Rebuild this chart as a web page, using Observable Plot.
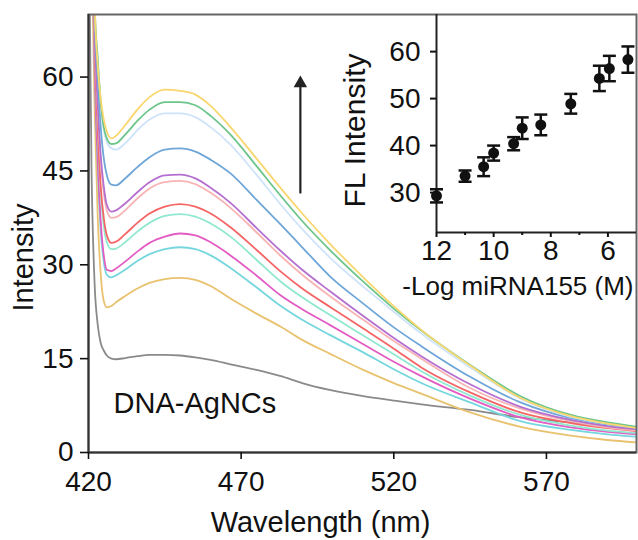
<!DOCTYPE html>
<html><head><meta charset="utf-8">
<script src="https://cdn.jsdelivr.net/npm/d3@7"></script>
<script src="https://cdn.jsdelivr.net/npm/@observablehq/plot@0.6"></script>
<style>
body{margin:0;background:#fff;}
#wrap{position:relative;width:638px;height:540px;font-family:"Liberation Sans",Arial,sans-serif;}
#main{position:absolute;left:0;top:0;}
#inset{position:absolute;left:340px;top:0;}
</style></head><body><div id="wrap"><div id="main"></div><div id="inset"></div></div>
<script>
// ---- main spectra ----
const wavelengths = [420, 421, 422, 423, 424, 425, 426, 427.5, 429, 432, 436, 440, 445, 450, 455, 460, 466.5, 475, 483, 490, 499, 510, 520, 529, 545, 561.5, 578, 590, 600];
const seriesNames = ["DNA-AgNCs", "s1", "s2", "s3", "s4", "s5", "s6", "s7", "s8", "s9", "s10", "s11"];
const seriesColors = ["#8a8a8a", "#e8c26e", "#76d6de", "#e25cc4", "#8fe8cf", "#f56565", "#f8b4b4", "#b56fd0", "#6ea6d8", "#cfe3fa", "#6cc58a", "#f9d66e"];
const gray    = [90, 45, 27, 20.5, 17.5, 16.3, 15.5, 15.0, 14.9, 15.1, 15.4, 15.6, 15.6, 15.5, 15.2, 14.8, 14.1, 13.2, 12.2, 11.1, 10.0, 9.0, 8.3, 7.7, 6.8, 5.6, 4.8, 4.1, 3.6];
const tan     = [110, 82, 55, 38, 28.5, 24.2, 23.2, 23.4, 24.0, 25.0, 26.2, 27.1, 27.7, 27.9, 27.6, 26.6, 24.6, 22.2, 20.1, 18.0, 15.8, 13.2, 11.1, 9.4, 6.4, 4.1, 2.7, 2.0, 1.6];
const cyan    = [115, 88, 62, 46, 35.5, 30.5, 28.4, 28.0, 28.3, 29.2, 30.6, 31.7, 32.5, 32.8, 32.5, 31.5, 29.5, 26.4, 23.4, 21.2, 18.8, 16.0, 13.3, 11.1, 8.0, 5.0, 3.6, 2.9, 2.5];
const magenta = [115, 88, 62, 47, 37, 31.5, 29.2, 29.0, 29.4, 30.5, 32.1, 33.5, 34.5, 35.0, 34.7, 33.6, 31.5, 28.3, 25.1, 22.9, 20.4, 17.3, 14.5, 12.2, 8.6, 5.6, 4.0, 3.3, 2.9];
const mint    = [120, 92, 65, 51, 41.5, 36.2, 33.6, 32.5, 32.6, 33.6, 35.3, 36.7, 37.8, 38.1, 37.7, 36.6, 34.5, 30.8, 27.3, 24.8, 22.0, 18.7, 15.7, 13.0, 9.1, 6.0, 4.3, 3.5, 3.1];
const red     = [120, 92, 65, 52, 42.5, 37.5, 34.7, 33.5, 33.7, 34.9, 36.7, 38.2, 39.3, 39.7, 39.3, 38.2, 36.0, 32.4, 28.9, 26.2, 23.3, 19.8, 16.6, 13.6, 9.6, 6.4, 4.7, 3.9, 3.4];
const pink    = [125, 95, 68, 55, 46.5, 41.5, 38.7, 37.5, 37.6, 38.7, 40.6, 42.2, 43.2, 43.4, 42.9, 41.5, 39.1, 35.2, 31.4, 28.4, 25.0, 21.2, 17.8, 15.0, 10.3, 7.0, 5.0, 4.0, 3.5];
const purple  = [125, 95, 68, 56, 47.5, 42.5, 39.6, 38.5, 38.7, 39.8, 41.6, 43.2, 44.3, 44.4, 43.8, 42.3, 39.9, 35.9, 32.2, 29.2, 25.8, 21.8, 18.3, 15.4, 10.9, 7.3, 5.2, 4.2, 3.7];
const blue    = [130, 98, 70, 60, 52, 47, 44.3, 42.8, 42.7, 43.8, 45.6, 47.2, 48.4, 48.6, 48.1, 46.8, 44.6, 40.4, 36.4, 32.8, 28.2, 23.8, 20.0, 17.0, 12.1, 8.0, 5.5, 4.5, 3.9];
const lightBlue = [130, 100, 72, 63, 56, 51.5, 49.6, 48.6, 48.4, 49.4, 51.5, 53.2, 54.2, 54.2, 53.6, 52.0, 49.2, 44.4, 39.6, 35.7, 31.2, 26.5, 22.5, 19.0, 13.6, 8.6, 5.7, 4.6, 4.0];
const green   = [130, 100, 72, 63, 56, 52, 50.2, 49.3, 49.4, 50.8, 53.0, 54.8, 56.0, 56.0, 55.5, 53.8, 50.8, 45.8, 41.0, 37.0, 32.4, 27.3, 23.0, 19.5, 14.0, 9.0, 6.0, 4.8, 4.1];
const yellow  = [130, 100, 72, 62, 56.5, 53.2, 51.3, 50.2, 50.6, 52.3, 54.8, 56.8, 58.0, 57.8, 57.2, 55.4, 52.0, 47.0, 42.2, 38.2, 33.4, 28.0, 23.4, 19.6, 13.9, 8.7, 5.8, 4.6, 3.9];
const seriesValues = [gray, tan, cyan, magenta, mint, red, pink, purple, blue, lightBlue, green, yellow];

const xTicks = [420, 470, 520, 570];
const yTicks = [0, 15, 30, 45, 60];
const xLabel = "Wavelength (nm)";
const yLabel = "Intensity";
const blankLabel = ["DNA-AgNCs"];
const blankLabelX = [428.2];
const blankLabelY = [7.8];
const arrowX = [489.4];
const arrowFrom = [41.4];
const arrowTo = [59.8];

// ---- inset ----
const insetX = [12, 11, 10.35, 10, 9.3, 9, 8.35, 7.3, 6.3, 5.95, 5.3];
const insetY = [29.3, 33.5, 35.5, 38.4, 40.4, 43.7, 44.4, 48.9, 54.3, 56.4, 58.3];
const insetErr = [1.4, 1.2, 2.0, 1.6, 1.4, 2.3, 2.2, 2.1, 2.7, 2.7, 2.8];
const insetXTicks = [12, 10, 8, 6];
const insetXMinor = [11, 9, 7];
const insetYTicks = [30, 40, 50, 60];
const insetXLabel = "-Log miRNA155 (M)";
const insetYLabel = "FL Intensity";

const rows = [];
seriesNames.forEach((n, i) => seriesValues[i].forEach((v, j) => rows.push({name: n, w: wavelengths[j], v})));
const arrowRows = arrowX.map((x, i) => ({x, y1: arrowFrom[i], y2: arrowTo[i]}));
const labelRows = blankLabel.map((t, i) => ({t, x: blankLabelX[i], y: blankLabelY[i]}));
const pts = insetX.map((x, i) => ({x, y: insetY[i], lo: insetY[i] - insetErr[i], hi: insetY[i] + insetErr[i]}));

const font = "Liberation Sans, Arial, sans-serif";

const main = Plot.plot({
  width: 638, height: 540,
  marginLeft: 88, marginRight: 2, marginTop: 14, marginBottom: 88,
  style: {fontFamily: font, fontSize: "28px", color: "#111", background: "transparent"},
  x: {domain: [420, 599.5]},
  y: {domain: [0, 70]},
  color: {domain: seriesNames, range: seriesColors},
  marks: [
    Plot.line(rows, {x: "w", y: "v", z: "name", stroke: "name", strokeWidth: 1.8, curve: "monotone-x", clip: true}),
    Plot.frame({stroke: "#666", strokeWidth: 2}),
    Plot.ruleX([420], {stroke: "#333", strokeWidth: 2}),
    Plot.ruleY([0], {stroke: "#333", strokeWidth: 2}),
    Plot.axisX({ticks: xTicks, tickSize: 7, tickPadding: 12, label: null, color: "#111", strokeWidth: 1.6}),
    Plot.axisY({ticks: yTicks, tickSize: 8, tickPadding: 7, label: null, color: "#111", strokeWidth: 1.6}),
    Plot.link(arrowRows, {x1: "x", x2: "x", y1: "y1", y2: "y2", stroke: "#222", strokeWidth: 2.2}),
    Plot.dot(arrowRows, {x: "x", y: "y2", symbol: "triangle", r: 5, fill: "#222", dy: 5}),
    Plot.text(labelRows, {x: "x", y: "y", text: "t", textAnchor: "start", lineAnchor: "middle", fontSize: 29, fill: "#111"}),
    Plot.text([xLabel], {text: d => d, frameAnchor: "bottom", textAnchor: "middle", dx: -42, dy: 70, lineAnchor: "middle", fontSize: 29, fill: "#111"}),
    Plot.text([yLabel], {text: d => d, frameAnchor: "left", textAnchor: "middle", rotate: -90, dx: -65, dy: 24, lineAnchor: "middle", fontSize: 29, fill: "#111"})
  ]
});
document.getElementById("main").appendChild(main);

const capSymbol = {draw(ctx, size) { const w = Math.sqrt(size / Math.PI); ctx.moveTo(-w, 0); ctx.lineTo(w, 0); }};

const inset = Plot.plot({
  width: 298, height: 300,
  marginLeft: 96, marginRight: 2, marginTop: 14, marginBottom: 68,
  style: {fontFamily: font, fontSize: "28px", color: "#111", background: "transparent", overflow: "visible"},
  x: {domain: [12, 5]},
  y: {domain: [21.5, 67.9]},
  marks: [
    Plot.ruleX([12], {stroke: "#222", strokeWidth: 2}),
    Plot.ruleY([21.5], {stroke: "#222", strokeWidth: 2}),
    Plot.axisX({ticks: insetXTicks, tickSize: 5, tickPadding: 3, tickFormat: d => String(d), label: null, color: "#111", strokeWidth: 2}),
    Plot.axisX({ticks: insetXMinor, tickSize: 3, tickFormat: () => "", label: null, color: "#111", strokeWidth: 2}),
    Plot.axisY({ticks: insetYTicks, tickSize: 6, tickPadding: 10, tickFormat: d => String(d), label: null, color: "#111", strokeWidth: 2}),
    Plot.link(pts, {x1: "x", x2: "x", y1: "lo", y2: "hi", stroke: "#111", strokeWidth: 2.5}),
    Plot.dot(pts, {x: "x", y: "lo", symbol: capSymbol, r: 6.5, stroke: "#111", strokeWidth: 2.5}),
    Plot.dot(pts, {x: "x", y: "hi", symbol: capSymbol, r: 6.5, stroke: "#111", strokeWidth: 2.5}),
    Plot.dot(pts, {x: "x", y: "y", r: 5.5, fill: "#111"}),
    Plot.text([insetYLabel], {text: d => d, frameAnchor: "left", textAnchor: "middle", rotate: -90, dx: -81, dy: 7, lineAnchor: "middle", fontSize: 30, fill: "#111"}),
    Plot.text([insetXLabel], {text: d => d, frameAnchor: "bottom-right", textAnchor: "end", dx: -3, dy: 54, lineAnchor: "middle", fontSize: 26, fill: "#111"})
  ]
});
document.getElementById("inset").appendChild(inset);
</script>
</body></html>
